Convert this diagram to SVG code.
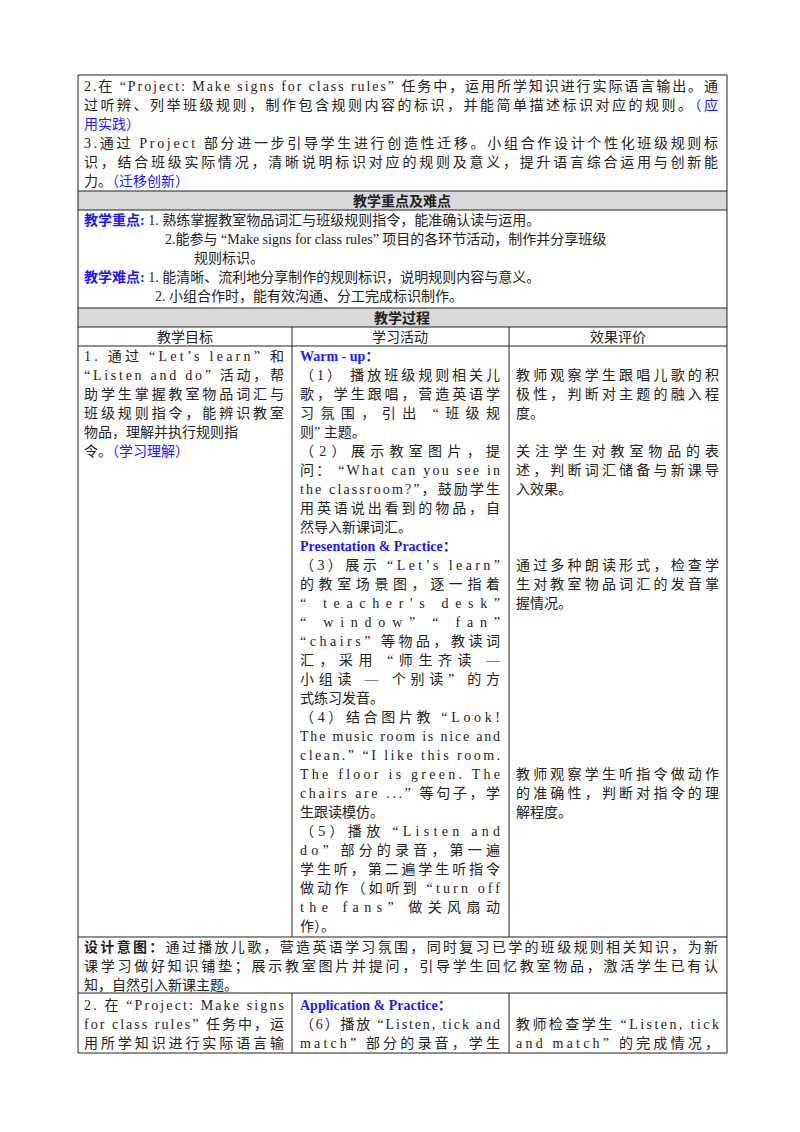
<svg xmlns="http://www.w3.org/2000/svg" width="800" height="1132" viewBox="0 0 800 1132">
<style>
text{font-family:"Liberation Serif","Noto Sans CJK SC",serif;font-size:14px;fill:#222}
.b{fill:#1a1aff}
.bb{fill:#1a1aff;font-weight:bold}
.h{font-weight:bold;text-anchor:middle}
.c{text-anchor:middle}
.k{font-weight:bold}
line{stroke:#222;stroke-width:1}
</style>
<rect width="800" height="1132" fill="#fff"/>
<g id="bands">
<rect x="78" y="191" width="649" height="19" fill="#d9d9d9"/>
<rect x="78" y="308" width="649" height="19" fill="#d9d9d9"/>
</g>
<g id="grid">
<line x1="78" y1="75" x2="727" y2="75"/>
<line x1="78" y1="191" x2="727" y2="191"/>
<line x1="78" y1="210" x2="727" y2="210"/>
<line x1="78" y1="308" x2="727" y2="308"/>
<line x1="78" y1="327" x2="727" y2="327"/>
<line x1="78" y1="346" x2="727" y2="346"/>
<line x1="78" y1="937" x2="727" y2="937"/>
<line x1="78" y1="993" x2="727" y2="993"/>
<line x1="78" y1="1053" x2="727" y2="1053"/>
<line x1="78" y1="75" x2="78" y2="1053"/>
<line x1="727" y1="75" x2="727" y2="1053"/>
<line x1="292" y1="327" x2="292" y2="937"/>
<line x1="509" y1="327" x2="509" y2="937"/>
<line x1="292" y1="993" x2="292" y2="1053"/>
<line x1="509" y1="993" x2="509" y2="1053"/>
</g>
<g id="goals">
<text x="84" y="91" textLength="634" lengthAdjust="spacing">2.在 “Project: Make signs for class rules” 任务中，运用所学知识进行实际语言输出。通</text>
<text x="84" y="110" textLength="634" lengthAdjust="spacing">过听辨、列举班级规则，制作包含规则内容的标识，并能简单描述标识对应的规则。<tspan class="b">（应</tspan></text>
<text x="84" y="129" class="b">用实践）</text>
<text x="84" y="148" textLength="634" lengthAdjust="spacing">3.通过 Project 部分进一步引导学生进行创造性迁移。小组合作设计个性化班级规则标</text>
<text x="84" y="167" textLength="634" lengthAdjust="spacing">识，结合班级实际情况，清晰说明标识对应的规则及意义，提升语言综合运用与创新能</text>
<text x="84" y="186">力。<tspan class="b">（迁移创新）</tspan></text>
</g>
<g id="keypoints">
<text x="402" y="206" class="h">教学重点及难点</text>
<text x="84" y="225"><tspan class="bb">教学重点:</tspan> 1. 熟练掌握教室物品词汇与班级规则指令，能准确认读与运用。</text>
<text x="165" y="244">2.能参与 “Make signs for class rules” 项目的各环节活动，制作并分享班级</text>
<text x="194" y="263">规则标识。</text>
<text x="84" y="282"><tspan class="bb">教学难点:</tspan> 1. 能清晰、流利地分享制作的规则标识，说明规则内容与意义。</text>
<text x="155" y="301">2. 小组合作时，能有效沟通、分工完成标识制作。</text>
</g>
<g id="process-head">
<text x="402" y="323" class="h">教学过程</text>
<text x="185" y="342" class="c">教学目标</text>
<text x="400" y="342" class="c">学习活动</text>
<text x="618" y="342" class="c">效果评价</text>
</g>
<g id="col1">
<text x="84" y="361" textLength="200" lengthAdjust="spacing">1. 通过 “Let’s learn” 和</text>
<text x="84" y="380" textLength="200" lengthAdjust="spacing">“Listen and do” 活动，帮</text>
<text x="84" y="399" textLength="200" lengthAdjust="spacing">助学生掌握教室物品词汇与</text>
<text x="84" y="418" textLength="200" lengthAdjust="spacing">班级规则指令，能辨识教室</text>
<text x="84" y="437">物品，理解并执行规则指</text>
<text x="84" y="456">令。<tspan class="b">（学习理解）</tspan></text>
</g>
<g id="col2">
<text x="300" y="361" class="bb">Warm - up：</text>
<text x="300" y="380" textLength="200" lengthAdjust="spacing">（1） 播放班级规则相关儿</text>
<text x="300" y="399" textLength="200" lengthAdjust="spacing">歌，学生跟唱，营造英语学</text>
<text x="300" y="418" textLength="200" lengthAdjust="spacing">习氛围，引出 “班级规</text>
<text x="300" y="437">则” 主题。</text>
<text x="300" y="456" textLength="200" lengthAdjust="spacing">（2）展示教室图片，提</text>
<text x="300" y="475" textLength="200" lengthAdjust="spacing">问： “What can you see in</text>
<text x="300" y="494" textLength="200" lengthAdjust="spacing">the classroom?”，鼓励学生</text>
<text x="300" y="513" textLength="200" lengthAdjust="spacing">用英语说出看到的物品，自</text>
<text x="300" y="532">然导入新课词汇。</text>
<text x="300" y="551" class="bb">Presentation &amp; Practice：</text>
<text x="300" y="570" textLength="200" lengthAdjust="spacing">（3）展示 “Let’s learn”</text>
<text x="300" y="589" textLength="200" lengthAdjust="spacing">的教室场景图，逐一指着</text>
<text x="300" y="608" textLength="200" lengthAdjust="spacing">“ teacher's desk”</text>
<text x="300" y="627" textLength="200" lengthAdjust="spacing">“ window” “ fan”</text>
<text x="300" y="646" textLength="200" lengthAdjust="spacing">“chairs” 等物品，教读词</text>
<text x="300" y="665" textLength="200" lengthAdjust="spacing">汇，采用 “师生齐读 —</text>
<text x="300" y="684" textLength="200" lengthAdjust="spacing">小组读 — 个别读” 的方</text>
<text x="300" y="703">式练习发音。</text>
<text x="300" y="722" textLength="200" lengthAdjust="spacing">（4）结合图片教 “Look!</text>
<text x="300" y="741" textLength="200" lengthAdjust="spacing">The music room is nice and</text>
<text x="300" y="760" textLength="200" lengthAdjust="spacing">clean.” “I like this room.</text>
<text x="300" y="779" textLength="200" lengthAdjust="spacing">The floor is green. The</text>
<text x="300" y="798" textLength="200" lengthAdjust="spacing">chairs are ...” 等句子，学</text>
<text x="300" y="817">生跟读模仿。</text>
<text x="300" y="836" textLength="200" lengthAdjust="spacing">（5）播放 “Listen and</text>
<text x="300" y="855" textLength="200" lengthAdjust="spacing">do” 部分的录音，第一遍</text>
<text x="300" y="874" textLength="200" lengthAdjust="spacing">学生听，第二遍学生听指令</text>
<text x="300" y="893" textLength="200" lengthAdjust="spacing">做动作（如听到 “turn off</text>
<text x="300" y="912" textLength="200" lengthAdjust="spacing">the fans” 做关风扇动</text>
<text x="300" y="931">作）。</text>
</g>
<g id="col3">
<text x="516" y="380" textLength="203" lengthAdjust="spacing">教师观察学生跟唱儿歌的积</text>
<text x="516" y="399" textLength="203" lengthAdjust="spacing">极性，判断对主题的融入程</text>
<text x="516" y="418">度。</text>
<text x="516" y="456" textLength="203" lengthAdjust="spacing">关注学生对教室物品的表</text>
<text x="516" y="475" textLength="203" lengthAdjust="spacing">述，判断词汇储备与新课导</text>
<text x="516" y="494">入效果。</text>
<text x="516" y="570" textLength="203" lengthAdjust="spacing">通过多种朗读形式，检查学</text>
<text x="516" y="589" textLength="203" lengthAdjust="spacing">生对教室物品词汇的发音掌</text>
<text x="516" y="608">握情况。</text>
<text x="516" y="779" textLength="203" lengthAdjust="spacing">教师观察学生听指令做动作</text>
<text x="516" y="798" textLength="203" lengthAdjust="spacing">的准确性，判断对指令的理</text>
<text x="516" y="817">解程度。</text>
</g>
<g id="design">
<text x="84" y="952" textLength="634" lengthAdjust="spacing"><tspan class="k">设计意图：</tspan>通过播放儿歌，营造英语学习氛围，同时复习已学的班级规则相关知识，为新</text>
<text x="84" y="971" textLength="634" lengthAdjust="spacing">课学习做好知识铺垫；展示教室图片并提问，引导学生回忆教室物品，激活学生已有认</text>
<text x="84" y="990">知，自然引入新课主题。</text>
</g>
<g id="row2">
<text x="84" y="1010" textLength="200" lengthAdjust="spacing">2. 在 “Project: Make signs</text>
<text x="84" y="1029" textLength="200" lengthAdjust="spacing">for class rules” 任务中，运</text>
<text x="84" y="1048" textLength="200" lengthAdjust="spacing">用所学知识进行实际语言输</text>
<text x="300" y="1010" class="bb">Application &amp; Practice：</text>
<text x="300" y="1029" textLength="200" lengthAdjust="spacing">（6）播放 “Listen, tick and</text>
<text x="300" y="1048" textLength="200" lengthAdjust="spacing">match” 部分的录音，学生</text>
<text x="516" y="1029" textLength="203" lengthAdjust="spacing">教师检查学生 “Listen, tick</text>
<text x="516" y="1048" textLength="203" lengthAdjust="spacing">and match” 的完成情况，</text>
</g>
</svg>
